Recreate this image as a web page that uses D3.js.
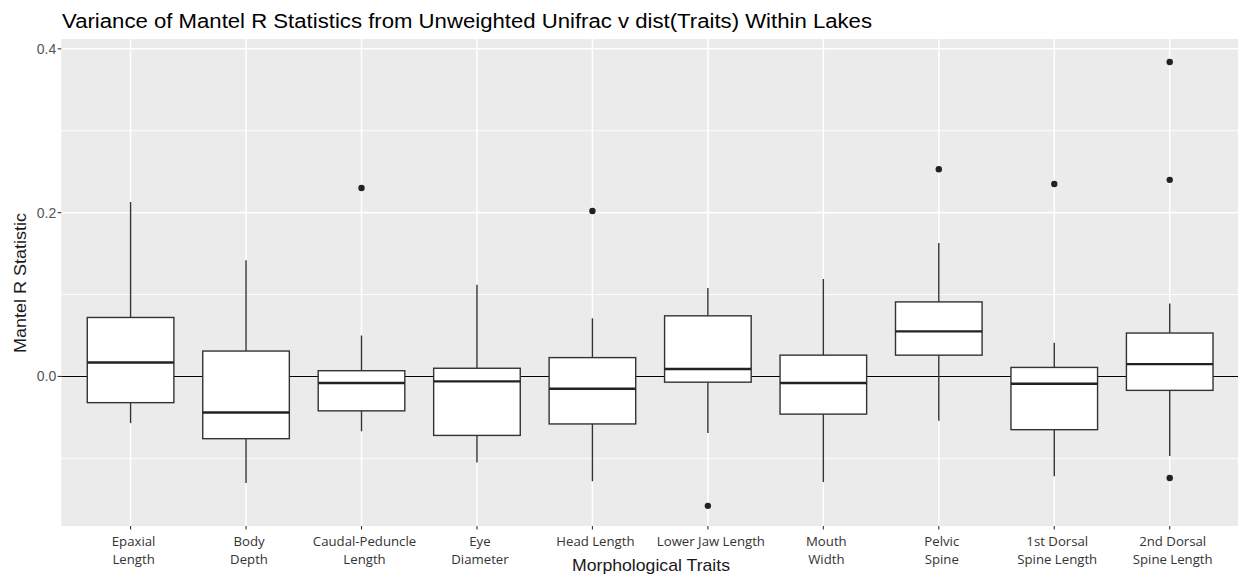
<!DOCTYPE html>
<html>
<head>
<meta charset="utf-8">
<script src="https://cdn.jsdelivr.net/npm/d3@7"></script>
<style>
  html, body { margin: 0; padding: 0; background: #ffffff; }
  svg { display: block; }
</style>
</head>
<body>
<svg id="chart" width="1238" height="575"></svg>
<script>
// Morphological traits (x axis), each label split into display lines
const traitLabels = [
  ["Epaxial", "Length"],
  ["Body", "Depth"],
  ["Caudal-Peduncle", "Length"],
  ["Eye", "Diameter"],
  ["Head Length"],
  ["Lower Jaw Length"],
  ["Mouth", "Width"],
  ["Pelvic", "Spine"],
  ["1st Dorsal", "Spine Length"],
  ["2nd Dorsal", "Spine Length"]
];

// Box-plot summaries of the Mantel R statistic per trait
const lowerWhisker = [-0.057, -0.130, -0.067, -0.105, -0.128, -0.069, -0.129, -0.054, -0.122, -0.097];
const lowerQuartile = [-0.032, -0.076, -0.042, -0.072, -0.058, -0.007, -0.046, 0.026, -0.065, -0.017];
const medianValue  = [0.017, -0.044, -0.008, -0.006, -0.015, 0.009, -0.008, 0.055, -0.009, 0.015];
const upperQuartile = [0.072, 0.031, 0.007, 0.010, 0.023, 0.074, 0.026, 0.091, 0.011, 0.053];
const upperWhisker = [0.213, 0.142, 0.050, 0.112, 0.071, 0.108, 0.119, 0.163, 0.041, 0.089];
const outlierValues = [[], [], [0.230], [], [0.202], [-0.158], [], [0.253], [0.235], [0.384, 0.240, -0.124]];

// Y axis ticks
const yMajorTicks = [0.0, 0.2, 0.4];
const yMinorTicks = [-0.1, 0.1, 0.3];
const yTickLabels = ["0.0", "0.2", "0.4"];

const titleText = "Variance of Mantel R Statistics from Unweighted Unifrac v dist(Traits) Within Lakes";
const xTitleText = "Morphological Traits";
const yTitleText = "Mantel R Statistic";

const svg = d3.select("#chart");
const panel = { left: 61.3, right: 1239, top: 39, bottom: 526 };

const idx = traitLabels.map((d, i) => i);
const x = d3.scalePoint().domain(idx).range([panel.left, panel.right]).padding(0.6);
const y = d3.scaleLinear().domain([-0.1826, 0.412]).range([panel.bottom, panel.top]);
const boxW = x.step() * 0.75;

svg.append("rect").attr("width", 1238).attr("height", 575).attr("fill", "#ffffff");

// Panel background
svg.append("rect")
  .attr("x", panel.left).attr("y", panel.top)
  .attr("width", panel.right - panel.left).attr("height", panel.bottom - panel.top)
  .attr("fill", "#ebebeb");

const grid = svg.append("g");
grid.selectAll(".ymin").data(yMinorTicks).join("line")
  .attr("x1", panel.left).attr("x2", panel.right)
  .attr("y1", d => y(d)).attr("y2", d => y(d))
  .attr("stroke", "#ffffff").attr("stroke-width", 0.9);
grid.selectAll(".ymaj").data(yMajorTicks).join("line")
  .attr("x1", panel.left).attr("x2", panel.right)
  .attr("y1", d => y(d)).attr("y2", d => y(d))
  .attr("stroke", "#ffffff").attr("stroke-width", 1.5);
grid.selectAll(".xmaj").data(idx).join("line")
  .attr("x1", d => x(d)).attr("x2", d => x(d))
  .attr("y1", panel.top).attr("y2", panel.bottom)
  .attr("stroke", "#ffffff").attr("stroke-width", 1.5);

// Reference line at zero
svg.append("line")
  .attr("x1", panel.left).attr("x2", panel.right)
  .attr("y1", y(0)).attr("y2", y(0))
  .attr("stroke", "#000000").attr("stroke-width", 1.1);

// Boxes
const boxes = svg.append("g").selectAll("g").data(idx).join("g");
boxes.append("line")
  .attr("x1", d => x(d)).attr("x2", d => x(d))
  .attr("y1", d => y(upperWhisker[d])).attr("y2", d => y(upperQuartile[d]))
  .attr("stroke", "#333333").attr("stroke-width", 1.4);
boxes.append("line")
  .attr("x1", d => x(d)).attr("x2", d => x(d))
  .attr("y1", d => y(lowerQuartile[d])).attr("y2", d => y(lowerWhisker[d]))
  .attr("stroke", "#333333").attr("stroke-width", 1.4);
boxes.append("rect")
  .attr("x", d => x(d) - boxW / 2)
  .attr("y", d => y(upperQuartile[d]))
  .attr("width", boxW)
  .attr("height", d => y(lowerQuartile[d]) - y(upperQuartile[d]))
  .attr("fill", "#ffffff").attr("stroke", "#333333").attr("stroke-width", 1.4);
boxes.append("line")
  .attr("x1", d => x(d) - boxW / 2).attr("x2", d => x(d) + boxW / 2)
  .attr("y1", d => y(medianValue[d])).attr("y2", d => y(medianValue[d]))
  .attr("stroke", "#222222").attr("stroke-width", 2.4);

// Outliers
const pts = idx.flatMap(i => outlierValues[i].map(v => ({ i, v })));
svg.append("g").selectAll("circle").data(pts).join("circle")
  .attr("cx", d => x(d.i)).attr("cy", d => y(d.v)).attr("r", 3.2)
  .attr("fill", "#222222");

// Y axis
const yAxis = svg.append("g");
yAxis.selectAll("line").data(yMajorTicks).join("line")
  .attr("x1", panel.left - 3.6).attr("x2", panel.left)
  .attr("y1", d => y(d)).attr("y2", d => y(d))
  .attr("stroke", "#333333").attr("stroke-width", 1.1);
yAxis.selectAll("text").data(yMajorTicks).join("text")
  .attr("x", panel.left - 5).attr("y", d => y(d))
  .attr("dy", "0.36em").attr("text-anchor", "end")
  .attr("font-family", "Liberation Sans, Arial, sans-serif")
  .attr("font-size", 14).attr("fill", "#555555")
  .text((d, i) => yTickLabels[i]);

// X axis
const xAxis = svg.append("g");
xAxis.selectAll("line").data(idx).join("line")
  .attr("x1", d => x(d)).attr("x2", d => x(d))
  .attr("y1", panel.bottom).attr("y2", panel.bottom + 3.6)
  .attr("stroke", "#333333").attr("stroke-width", 1.1);
const xl = xAxis.selectAll("text").data(idx).join("text")
  .attr("text-anchor", "middle")
  .attr("font-family", "Open Sans, Noto Sans, sans-serif")
  .attr("font-size", 13.2).attr("fill", "#333333")
  .attr("transform", d => `translate(${x(d) + 3},0)`);
xl.selectAll("tspan").data(d => traitLabels[d]).join("tspan")
  .attr("x", 0).attr("y", (d, j) => 546 + j * 17.5)
  .text(d => d);

// Titles
svg.append("text")
  .attr("x", 651).attr("y", 571)
  .attr("text-anchor", "middle")
  .attr("font-family", "Liberation Sans, Arial, sans-serif")
  .attr("font-size", 17).attr("fill", "#1a1a1a")
  .attr("textLength", 158).attr("lengthAdjust", "spacingAndGlyphs")
  .text(xTitleText);

svg.append("text")
  .attr("transform", `translate(26,${283}) rotate(-90)`)
  .attr("text-anchor", "middle")
  .attr("font-family", "Liberation Sans, Arial, sans-serif")
  .attr("font-size", 16.5).attr("fill", "#1a1a1a")
  .attr("textLength", 140).attr("lengthAdjust", "spacingAndGlyphs")
  .text(yTitleText);

svg.append("text")
  .attr("x", 62).attr("y", 28)
  .attr("font-family", "Liberation Sans, Arial, sans-serif")
  .attr("font-size", 19.5).attr("fill", "#000000")
  .attr("textLength", 810).attr("lengthAdjust", "spacingAndGlyphs")
  .text(titleText);
</script>
</body>
</html>
